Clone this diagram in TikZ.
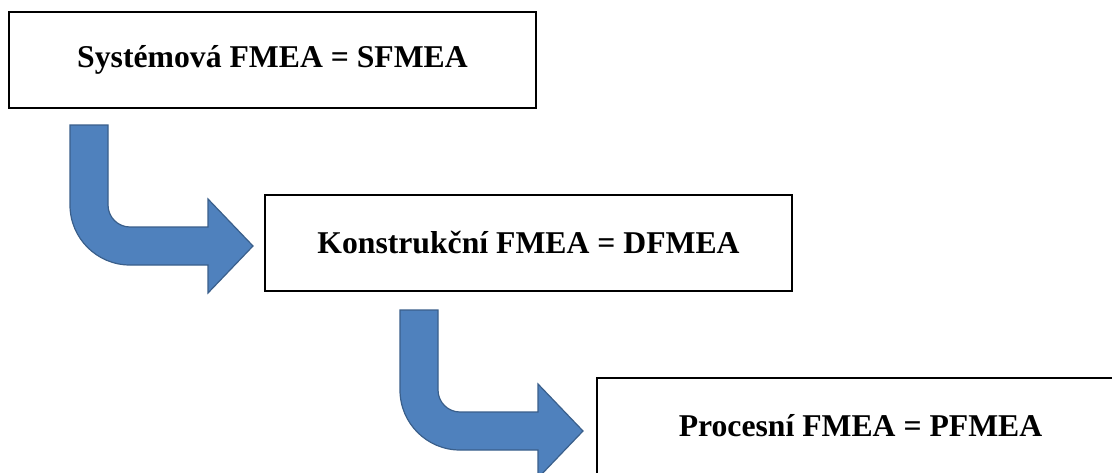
\documentclass[tikz,border=0pt]{standalone}
\usepackage{fontspec}
\setmainfont{Liberation Serif}
\definecolor{arrowfill}{HTML}{4F81BD}
\definecolor{arrowline}{HTML}{3A5F8B}
\tikzset{
  x=1pt, y=-1pt,
  box/.style={draw=black, line width=1.5pt, fill=white, minimum width=527pt, minimum height=96pt, inner sep=0pt,
              font=\fontsize{31.7}{38}\selectfont\bfseries},
  bentarrow/.pic={
    \path[fill=arrowfill, draw=arrowline, line width=1.2pt, line join=miter]
      (70,125) -- (70,205) arc[start angle=180, end angle=90, radius=60]
      -- (208,265) -- (208,293) -- (253,246) -- (208,199) -- (208,227) -- (130,227)
      arc[start angle=90, end angle=180, radius=22] -- (108,125) -- cycle;
  }
}
\begin{document}
\begin{tikzpicture}
\useasboundingbox (0,0) rectangle (1112,472);
\clip (0,0) rectangle (1112,472);
\fill[white] (0,0) rectangle (1112,472);
\node[box] (sfmea) at (272.5,60) {Systémová FMEA = SFMEA};
\node[box] (dfmea) at (528.5,243) {Konstrukční FMEA = DFMEA};
\node[box] (pfmea) at (860.5,426) {Procesní FMEA = PFMEA};
\pic at (0,0) {bentarrow};
\pic at (330,185) {bentarrow};
\end{tikzpicture}
\end{document}
